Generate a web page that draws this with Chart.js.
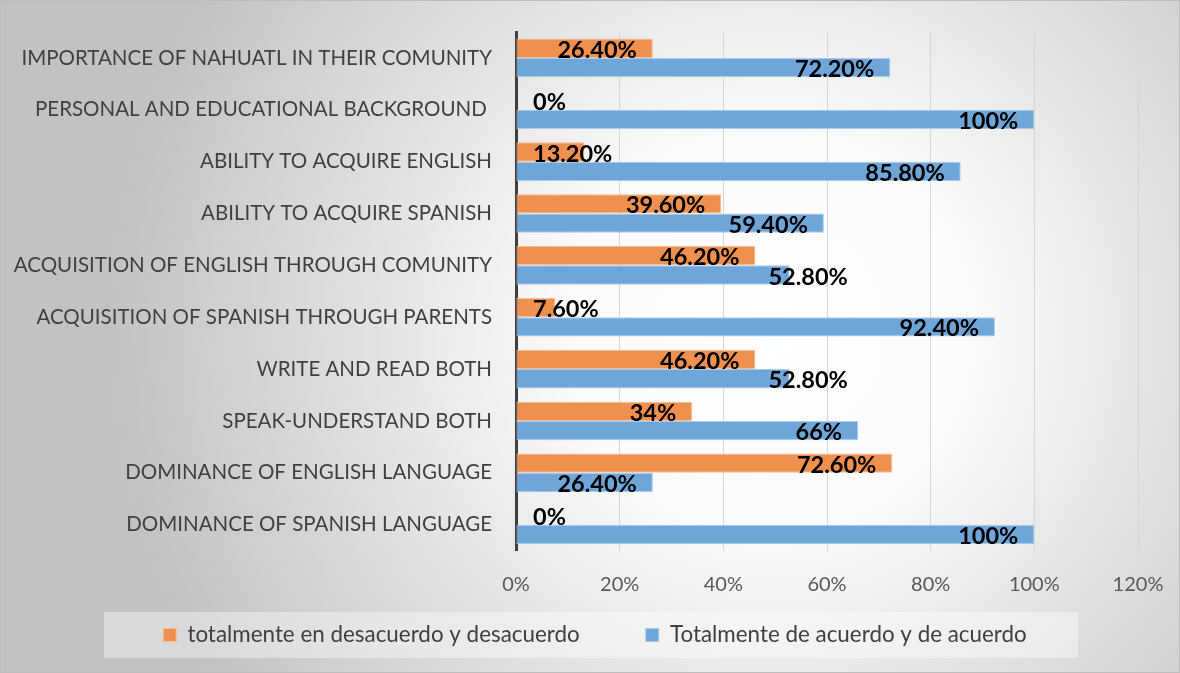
<!DOCTYPE html>
<html>
<head>
<meta charset="utf-8">
<script src="https://cdn.jsdelivr.net/npm/chart.js@4.4.0/dist/chart.umd.min.js"></script>
<style>
  html, body { margin: 0; padding: 0; background: #ffffff; }
  #wrap { width: 1180px; height: 673px; position: relative; }
  canvas { display: block; }
</style>
</head>
<body>
<div id="wrap"><canvas id="c" width="1180" height="673"></canvas></div>
<script>
// ---- data ----
const categories = [
  "IMPORTANCE OF NAHUATL IN THEIR COMUNITY",
  "PERSONAL AND EDUCATIONAL BACKGROUND ",
  "ABILITY TO ACQUIRE ENGLISH",
  "ABILITY TO ACQUIRE SPANISH",
  "ACQUISITION OF ENGLISH THROUGH COMUNITY",
  "ACQUISITION OF SPANISH THROUGH PARENTS",
  "WRITE AND READ BOTH",
  "SPEAK-UNDERSTAND BOTH",
  "DOMINANCE OF ENGLISH LANGUAGE",
  "DOMINANCE OF SPANISH LANGUAGE"
];
const seriesNames = [
  "totalmente en desacuerdo y desacuerdo",
  "Totalmente de acuerdo y de acuerdo"
];
const disagreeValues = [26.4, 0, 13.2, 39.6, 46.2, 7.6, 46.2, 34, 72.6, 0];
const agreeValues    = [72.2, 100, 85.8, 59.4, 52.8, 92.4, 52.8, 66, 26.4, 100];
const disagreeLabels = ["26.40%", "0%", "13.20%", "39.60%", "46.20%", "7.60%", "46.20%", "34%", "72.60%", "0%"];
const agreeLabels    = ["72.20%", "100%", "85.80%", "59.40%", "52.80%", "92.40%", "52.80%", "66%", "26.40%", "100%"];
const xTickMax = 120;
const xTickStep = 20;

const FONT = "Lato, 'Open Sans', 'DejaVu Sans', sans-serif";
const LEGEND_FONT = 22.4;
const LEGEND_ITEM_GAP = 66;
const LEGEND_SHIFT = -20;
const LEGEND_CENTER_Y = 635;

// background, legend panel, legend spacing
const bgPlugin = {
  id: 'bg',
  afterLayout(chart) {
    const lg = chart.legend;
    if (!lg) return;
    lg.left += LEGEND_SHIFT; lg.right += LEGEND_SHIFT;
    lg.options.labels.padding = LEGEND_ITEM_GAP;
    lg.top = LEGEND_CENTER_Y - LEGEND_ITEM_GAP - LEGEND_FONT / 2;
    lg.bottom = chart.height;
  },
  beforeDraw(chart) {
    const ctx = chart.ctx;
    const W = chart.width, H = chart.height;
    ctx.save();
    const g = ctx.createRadialGradient(770, 330, 0, 770, 330, 660);
    g.addColorStop(0, '#ffffff');
    g.addColorStop(0.3, '#fbfbfb');
    g.addColorStop(1, '#c2c2c2');
    ctx.fillStyle = g;
    ctx.fillRect(0, 0, W, H);
    // legend panel
    ctx.fillStyle = 'rgba(255,255,255,0.38)';
    ctx.fillRect(104, LEGEND_CENTER_Y - 23, 974, 46);
    ctx.strokeStyle = '#bdbdbd';
    ctx.lineWidth = 1;
    ctx.strokeRect(0.5, 0.5, W - 1, H - 1);
    ctx.restore();
  }
};

// data labels (inside end, clamped near axis, avoiding overlap)
const labelPlugin = {
  id: 'barLabels',
  afterDatasetsDraw(chart) {
    const ctx = chart.ctx;
    const xs = chart.scales.x;
    const axisX = xs.getPixelForValue(0);
    ctx.save();
    ctx.font = "bold 23.5px " + FONT;
    ctx.fillStyle = '#000000';
    ctx.textBaseline = 'middle';
    ctx.textAlign = 'left';
    const labelSets = [disagreeLabels, agreeLabels];
    const n = categories.length;
    for (let i = 0; i < n; i++) {
      let prevRight = null, prevLeft = null;
      for (let d = 0; d < 2; d++) {
        const meta = chart.getDatasetMeta(d);
        const bar = meta.data[i];
        const txt = labelSets[d][i];
        const w = ctx.measureText(txt).width;
        let right = Math.max(bar.x - 16, axisX + 17 + w);
        let left = right - w;
        if (prevRight !== null && left < prevRight && right > prevLeft) {
          left = prevRight + 29;
        }
        ctx.fillText(txt, left, bar.y + 2);
        prevRight = left + w; prevLeft = left;
      }
    }
    ctx.restore();
  }
};

new Chart(document.getElementById('c'), {
  type: 'bar',
  data: {
    labels: categories,
    datasets: [
      {
        label: seriesNames[0],
        data: disagreeValues,
        backgroundColor: '#F0904E',
        borderColor: '#F7BE95',
        borderWidth: 1,
        borderSkipped: false
      },
      {
        label: seriesNames[1],
        data: agreeValues,
        backgroundColor: '#6FA6DA',
        borderColor: '#A9CCEC',
        borderWidth: 1,
        borderSkipped: false
      }
    ]
  },
  options: {
    indexAxis: 'y',
    responsive: false,
    animation: false,
    devicePixelRatio: 1,
    categoryPercentage: 0.745,
    barPercentage: 1.0,
    layout: { padding: { top: 32, right: 42, bottom: 20, left: 0 } },
    scales: {
      x: {
        min: 0, max: xTickMax,
        ticks: {
          stepSize: xTickStep,
          padding: 22,
          color: '#595959',
          font: { family: FONT, size: 20 },
          callback: v => v + '%'
        },
        grid: { color: '#d6d6d6', lineWidth: 1, drawTicks: false },
        border: { display: false },
        afterFit(scale) { scale.height = 50; scale.paddingRight = 0; scale.paddingLeft = 0; }
      },
      y: {
        ticks: {
          padding: 24,
          color: '#404040',
          font: { family: FONT, size: 20.5 },
          autoSkip: false
        },
        grid: { display: false, drawTicks: false },
        border: { display: true, color: '#404040', width: 3 },
        afterFit(scale) { scale.width = 516; scale.paddingTop = 0; scale.paddingBottom = 0; }
      }
    },
    plugins: {
      legend: {
        position: 'bottom',
        labels: {
          boxWidth: 13, boxHeight: 13,
          padding: 20,
          color: '#404040',
          font: { family: FONT, size: LEGEND_FONT }
        }
      },
      tooltip: { enabled: false }
    }
  },
  plugins: [bgPlugin, labelPlugin]
});
</script>
</body>
</html>
